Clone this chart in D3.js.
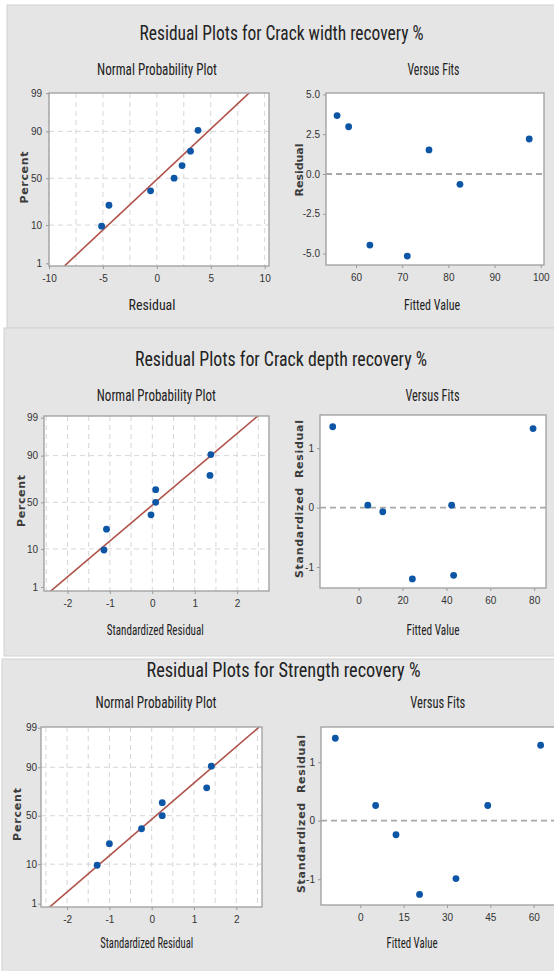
<!DOCTYPE html>
<html>
<head>
<meta charset="utf-8">
<script src="https://cdn.jsdelivr.net/npm/d3@7"></script>
<style>
  body { margin: 0; background: #fff; }
  svg { display: block; }
  .narrow { font-family: "Liberation Sans Narrow", "Arial Narrow", "Roboto Condensed", sans-serif; fill: #222; }
  .ylab { font-family: "DejaVu Sans", sans-serif; font-weight: bold; font-size: 11px; fill: #3c3c3c; }
  .tick text { font-family: "Liberation Sans Narrow", "Arial Narrow", sans-serif; font-size: 10px; fill: #333; }
  .tick line { stroke: #9a9a9a; }
</style>
</head>
<body>
<svg id="chart" width="554" height="971"></svg>
<script>
'use strict';

/* values */
const percentTicks = [1, 10, 50, 90, 99];
const percentGrid = [10, 50, 90];
const nppPercent = [9.5, 23, 36.5, 50, 63.5, 77, 90.5];

// crack width recovery
const widthNppResidual = [-5.12, -4.44, -0.58, 1.6, 2.34, 3.12, 3.82];
const widthFitted = [55.9, 58.4, 63.0, 71.1, 75.8, 82.5, 97.5];
const widthResidual = [3.67, 2.97, -4.47, -5.16, 1.51, -0.65, 2.2];
const widthLine = [0.12, 3.62]; // mean, sd of the fitted normal line
const widthResidualTicks = [-10, -5, 0, 5, 10];
const widthFittedTicks = [60, 70, 80, 90, 100];
const widthVsTicks = [-5, -2.5, 0, 2.5, 5];

// crack depth recovery
const depthNppResidual = [-1.14, -1.08, -0.03, 0.08, 0.08, 1.36, 1.38];
const depthFitted = [-11.8, 4.2, 11.0, 24.5, 42.4, 43.3, 79.5];
const depthResidual = [1.36, 0.04, -0.07, -1.2, 0.04, -1.14, 1.33];
const depthLine = [0.08, 1.015];
const depthFittedTicks = [0, 20, 40, 60, 80];

// strength recovery
const strengthNppResidual = [-1.29, -1.0, -0.24, 0.25, 0.25, 1.3, 1.41];
const strengthFitted = [-8.65, 5.3, 12.35, 20.5, 33.1, 44.1, 62.4];
const strengthResidual = [1.41, 0.26, -0.24, -1.26, -0.99, 0.26, 1.29];
const strengthLine = [0.1, 1.04];
const strengthFittedTicks = [0, 15, 30, 45, 60];

const stdResidualTicks = [-2, -1, 0, 1, 2];
const stdVsTicks = [-1, 0, 1];

const pointColor = '#0d56a6';
const lineColor = '#b0524a';

// Acklam's approximation of the inverse normal CDF, used for the probability axis
function probit(p) {
    const a = [-39.69683028665376, 220.9460984245205, -275.9285104469687, 138.3577518672690, -30.66479806614716, 2.506628277459239];
    const b = [-54.47609879822406, 161.5858368580409, -155.6989798598866, 66.80131188771972, -13.28068155288572];
    const c = [-0.007784894002430293, -0.3223964580411365, -2.400758277161838, -2.549732539343734, 4.374664141464968, 2.938163982698783];
    const d = [0.007784695709041462, 0.3224671290700398, 2.445134137142996, 3.754408661907416];
    const tail = q => (((((c[0] * q + c[1]) * q + c[2]) * q + c[3]) * q + c[4]) * q + c[5]) /
        ((((d[0] * q + d[1]) * q + d[2]) * q + d[3]) * q + 1);
    if (p < 0.02425) return tail(Math.sqrt(-2 * Math.log(p)));
    if (p > 1 - 0.02425) return -tail(Math.sqrt(-2 * Math.log(1 - p)));
    const q = p - 0.5;
    const r = q * q;
    return (((((a[0] * r + a[1]) * r + a[2]) * r + a[3]) * r + a[4]) * r + a[5]) * q /
        (((((b[0] * r + b[1]) * r + b[2]) * r + b[3]) * r + b[4]) * r + 1);
}

/* layout: boxes are [x0, y0, x1, y1]; *W values are the text widths seen in the picture */
const panels = [
    {
        title: 'Residual Plots for Crack width recovery %', titleX: 281.5, titleW: 284,
        bg: [7, 5, 560, 323], titleY: 39.5, subY: 75, xLabelY: 309.5,
        npp: {
            box: [49, 93, 269, 266], xDomain: [-10, 10.4], zDomain: [-2.40, 2.33],
            residual: widthNppResidual, line: widthLine, ticks: widthResidualTicks, gridStep: 2.5, tickPad: 4,
            subX: 157, subW: 120, label: 'Residual', labelX: 152, labelW: 47, yLabel: [24.5, 177.5], yLabelW: 52
        },
        vs: {
            box: [326, 93, 544, 265], xDomain: [53.5, 100.7], yDomain: [-5.72, 5.09],
            fitted: widthFitted, residual: widthResidual, xTicks: widthFittedTicks, yTicks: widthVsTicks,
            yFormat: d => d.toFixed(1), subX: 433.5, subW: 52, label: 'Fitted Value', labelX: 432, labelW: 56,
            yLabel: [299, 170], yText: 'Residual', yLabelW: 53
        }
    },
    {
        title: 'Residual Plots for Crack depth recovery %', titleX: 281, titleW: 292,
        bg: [4, 328, 560, 328], titleY: 366, subY: 401, xLabelY: 634.5,
        npp: {
            box: [44, 416, 269, 591], xDomain: [-2.554, 2.752], zDomain: [-2.437, 2.37],
            residual: depthNppResidual, line: depthLine, ticks: stdResidualTicks, gridStep: 0.5, tickPad: 3,
            subX: 156.3, subW: 119, label: 'Standardized Residual', labelX: 155.3, labelW: 97, yLabel: [21, 501], yLabelW: 52
        },
        vs: {
            box: [320, 415, 546, 588], xDomain: [-17.6, 85.4], yDomain: [-1.353, 1.558],
            fitted: depthFitted, residual: depthResidual, xTicks: depthFittedTicks, yTicks: stdVsTicks,
            yFormat: d => String(d), subX: 432.5, subW: 54, label: 'Fitted Value', labelX: 433, labelW: 53,
            yLabel: [299, 499], yText: 'Standardized  Residual', yLabelW: 158
        }
    },
    {
        title: 'Residual Plots for Strength recovery %', titleX: 283.5, titleW: 274,
        bg: [2, 659, 560, 320], titleY: 676.5, subY: 708, xLabelY: 948,
        npp: {
            box: [41, 727, 262, 907], xDomain: [-2.617, 2.608], zDomain: [-2.415, 2.347],
            residual: strengthNppResidual, line: strengthLine, ticks: stdResidualTicks, gridStep: 0.5, tickPad: 1,
            subX: 156, subW: 121, label: 'Standardized Residual', labelX: 146.7, labelW: 93, yLabel: [17.5, 814.5], yLabelW: 53
        },
        vs: {
            box: [321, 727, 560, 905], xDomain: [-13.6, 69.1], yDomain: [-1.441, 1.602],
            fitted: strengthFitted, residual: strengthResidual, xTicks: strengthFittedTicks, yTicks: stdVsTicks,
            yFormat: d => String(d), subX: 437.8, subW: 55, label: 'Fitted Value', labelX: 412, labelW: 51,
            yLabel: [301.5, 814], yText: 'Standardized  Residual', yLabelW: 158
        }
    }
];

const svg = d3.select('#chart');

function addText(text, x, y, size, width) {
    return svg.append('text').attr('class', 'narrow')
        .attr('x', x).attr('y', y)
        .attr('text-anchor', 'middle')
        .attr('font-size', size)
        .attr('textLength', width)
        .attr('lengthAdjust', 'spacingAndGlyphs')
        .text(text);
}

function styleAxis(g) {
    g.select('.domain').remove();
    g.selectAll('.tick line').attr('stroke-width', 1);
}

function addRotatedLabel(text, [x, y], width) {
    svg.append('text')
        .attr('class', 'ylab')
        .attr('transform', `translate(${x},${y}) rotate(-90)`)
        .attr('text-anchor', 'middle')
        .attr('dominant-baseline', 'central')
        .attr('textLength', width)
        .attr('lengthAdjust', 'spacing')
        .style('white-space', 'pre')
        .text(text);
}

function renderFrame([x0, y0, x1, y1]) {
    svg.append('rect')
        .attr('x', x0).attr('y', y0)
        .attr('width', x1 - x0).attr('height', y1 - y0)
        .attr('fill', '#fff');
}

function renderFrameBorder([x0, y0, x1, y1]) {
    svg.append('rect')
        .attr('x', x0).attr('y', y0)
        .attr('width', x1 - x0).attr('height', y1 - y0)
        .attr('fill', 'none')
        .attr('stroke', '#a4a4a4')
        .attr('stroke-width', 1.4);
}

function renderNpp(cfg, subY, xLabelY, clipId) {
    const [x0, y0, x1, y1] = cfg.box;
    const xScale = d3.scaleLinear().domain(cfg.xDomain).range([x0, x1]);
    const zScale = d3.scaleLinear().domain(cfg.zDomain).range([y1, y0]);
    const yScale = p => zScale(probit(p / 100));

    renderFrame(cfg.box);

    svg.append('clipPath').attr('id', clipId)
        .append('rect').attr('x', x0).attr('y', y0).attr('width', x1 - x0).attr('height', y1 - y0);

    const grid = svg.append('g')
        .attr('stroke', '#d6d6d6')
        .attr('stroke-dasharray', '5,4')
        .attr('stroke-width', 1);
    const start = Math.ceil(cfg.xDomain[0] / cfg.gridStep) * cfg.gridStep;
    grid.selectAll('.vgrid')
        .data(d3.range(start, cfg.xDomain[1], cfg.gridStep))
        .join('line')
        .attr('x1', d => xScale(d)).attr('x2', d => xScale(d))
        .attr('y1', y0).attr('y2', y1);
    grid.selectAll('.hgrid')
        .data(percentGrid)
        .join('line')
        .attr('x1', x0).attr('x2', x1)
        .attr('y1', d => yScale(d)).attr('y2', d => yScale(d));

    const [mean, sd] = cfg.line;
    svg.append('line')
        .attr('clip-path', `url(#${clipId})`)
        .attr('x1', xScale(cfg.xDomain[0])).attr('y1', zScale((cfg.xDomain[0] - mean) / sd))
        .attr('x2', xScale(cfg.xDomain[1])).attr('y2', zScale((cfg.xDomain[1] - mean) / sd))
        .attr('stroke', lineColor)
        .attr('stroke-width', 1.6);

    renderFrameBorder(cfg.box);

    svg.append('g')
        .selectAll('circle')
        .data(cfg.residual.map((r, i) => [r, nppPercent[i]]))
        .join('circle')
        .attr('cx', ([r]) => xScale(r))
        .attr('cy', ([_, p]) => yScale(p))
        .attr('r', 3.4)
        .attr('fill', pointColor);

    svg.append('g')
        .attr('transform', `translate(${x0},0)`)
        .call(d3.axisLeft(zScale)
            .tickValues(percentTicks.map(p => probit(p / 100)))
            .tickFormat((_, i) => percentTicks[i])
            .tickSize(3).tickPadding(cfg.tickPad))
        .call(styleAxis);

    svg.append('g')
        .attr('transform', `translate(0,${y1})`)
        .call(d3.axisBottom(xScale)
            .tickValues(cfg.ticks)
            .tickFormat(d => String(d))
            .tickSize(3).tickPadding(6))
        .call(styleAxis);

    addText('Normal Probability Plot', cfg.subX, subY, 16.5, cfg.subW);
    addText(cfg.label, cfg.labelX, xLabelY, 14.5, cfg.labelW);
    addRotatedLabel('Percent', cfg.yLabel, cfg.yLabelW);
}

function renderVersusFits(cfg, subY, xLabelY) {
    const [x0, y0, x1, y1] = cfg.box;
    const xScale = d3.scaleLinear().domain(cfg.xDomain).range([x0, x1]);
    const yScale = d3.scaleLinear().domain(cfg.yDomain).range([y1, y0]);

    renderFrame(cfg.box);

    svg.append('line')
        .attr('x1', x0).attr('x2', x1)
        .attr('y1', yScale(0)).attr('y2', yScale(0))
        .attr('stroke', '#a8a8a8')
        .attr('stroke-width', 1.8)
        .attr('stroke-dasharray', '6,4');

    renderFrameBorder(cfg.box);

    svg.append('g')
        .selectAll('circle')
        .data(cfg.fitted.map((f, i) => [f, cfg.residual[i]]))
        .join('circle')
        .attr('cx', ([f]) => xScale(f))
        .attr('cy', ([_, r]) => yScale(r))
        .attr('r', 3.4)
        .attr('fill', pointColor);

    svg.append('g')
        .attr('transform', `translate(${x0},0)`)
        .call(d3.axisLeft(yScale)
            .tickValues(cfg.yTicks)
            .tickFormat(cfg.yFormat)
            .tickSize(3).tickPadding(3))
        .call(styleAxis);

    svg.append('g')
        .attr('transform', `translate(0,${y1})`)
        .call(d3.axisBottom(xScale)
            .tickValues(cfg.xTicks)
            .tickFormat(d => String(d))
            .tickSize(3).tickPadding(6))
        .call(styleAxis);

    addText('Versus Fits', cfg.subX, subY, 16.5, cfg.subW);
    addText(cfg.label, cfg.labelX, xLabelY, 14.5, cfg.labelW);
    addRotatedLabel(cfg.yText, cfg.yLabel, cfg.yLabelW);
}

panels.forEach((panel, i) => {
    const [bx, by, bw, bh] = panel.bg;
    svg.append('rect')
        .attr('x', bx).attr('y', by)
        .attr('width', bw).attr('height', bh)
        .attr('fill', '#e5e5e5')
        .attr('stroke', '#d2d2d2')
        .attr('stroke-width', 1);

    addText(panel.title, panel.titleX, panel.titleY, 20.5, panel.titleW);

    renderNpp(panel.npp, panel.subY, panel.xLabelY, `clip-${i}`);
    renderVersusFits(panel.vs, panel.subY, panel.xLabelY);
});
</script>
</body>
</html>
